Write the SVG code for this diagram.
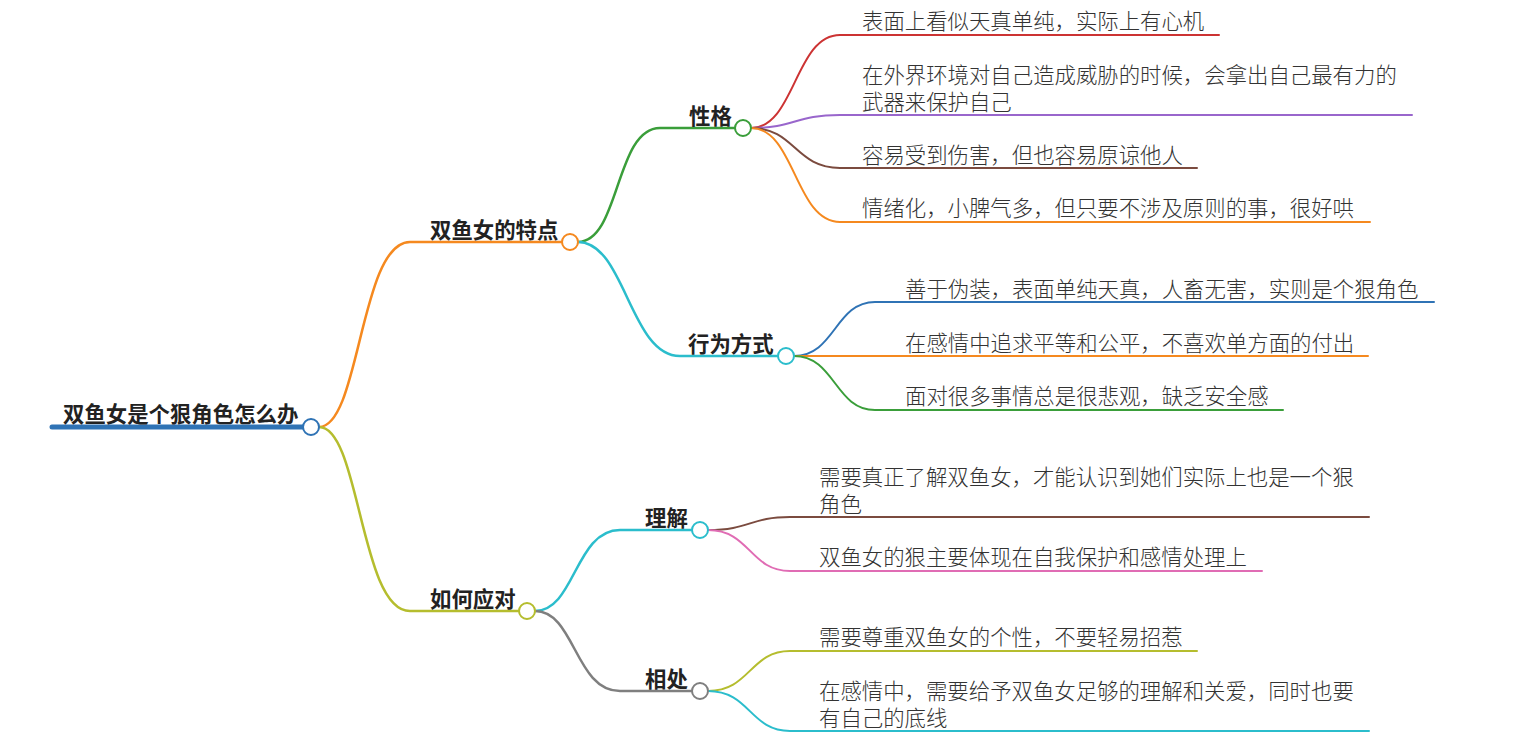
<svg xmlns="http://www.w3.org/2000/svg" width="1529" height="745" viewBox="0 0 1529 745">
<style>
.c{fill:none;stroke-linecap:round}
.b{stroke-width:2.5}
.l{stroke-width:2}
.n{fill:#fff;stroke-width:2}
.t{font-family:"Noto Sans CJK SC","Noto Sans",sans-serif;font-size:21.4px;fill:#333;font-weight:300}
.h{font-family:"Noto Sans CJK SC","Noto Sans",sans-serif;font-size:21.4px;fill:#222;font-weight:bold}
</style>
<rect width="1529" height="745" fill="#fff"/>
<g id="connectors">
<path class="c" d="M52,427 L303,427" stroke="#2f73b5" stroke-width="5"/>
<path class="c b" d="M319,427 C360,427 360,242 410,242 L562,242" stroke="#f5891f"/>
<path class="c b" d="M319,427 C360,427 360,611 410,611 L519,611" stroke="#b5bd2e"/>
<path class="c b" d="M578,242 C620,242 615,128 660,128 L735,128" stroke="#3a9e3a"/>
<path class="c b" d="M578,242 C625,242 630,356 680,356 L778,356" stroke="#2bbdcc"/>
<path class="c b" d="M535,611 C575,611 575,530 620,530 L692,530" stroke="#2bbdcc"/>
<path class="c b" d="M535,611 C575,611 575,691 620,691 L692,691" stroke="#7f7f7f"/>
<path class="c l" d="M751,128 C795,128 795,35 840,35 L1219,35" stroke="#cc3333"/>
<path class="c l" d="M751,128 C795,128 795,115 840,115 L1412,115" stroke="#9966cc"/>
<path class="c l" d="M751,128 C795,128 795,168 840,168 L1197,168" stroke="#7b4b3f"/>
<path class="c l" d="M751,128 C795,128 795,222 840,222 L1370,222" stroke="#f5891f"/>
<path class="c l" d="M794,356 C835,356 835,302 875,302 L1434,302" stroke="#2f73b5"/>
<path class="c l" d="M794,356 L1368,356" stroke="#f5891f"/>
<path class="c l" d="M794,356 C835,356 835,410 875,410 L1283,410" stroke="#3a9e3a"/>
<path class="c l" d="M708,530 C750,530 750,517 790,517 L1369,517" stroke="#7b4b3f"/>
<path class="c l" d="M708,530 C750,530 750,571 790,571 L1262,571" stroke="#e06cb4"/>
<path class="c l" d="M708,691 C750,691 750,651 790,651 L1197,651" stroke="#b5bd2e"/>
<path class="c l" d="M708,691 C750,691 750,731 790,731 L1369,731" stroke="#2bbdcc"/>
</g>
<g id="root"><circle class="n" cx="311" cy="427" r="8" stroke="#2f73b5"/><text class="h" x="63" y="422">双鱼女是个狠角色怎么办</text></g>
<g id="n1"><circle class="n" cx="570" cy="242" r="8" stroke="#f5891f"/><text class="h" x="430" y="238">双鱼女的特点</text></g>
<g id="n2"><circle class="n" cx="527" cy="611" r="8" stroke="#b5bd2e"/><text class="h" x="430" y="607">如何应对</text></g>
<g id="n11"><circle class="n" cx="743" cy="128" r="8" stroke="#3a9e3a"/><text class="h" x="689" y="124">性格</text></g>
<g id="n12"><circle class="n" cx="786" cy="356" r="8" stroke="#2bbdcc"/><text class="h" x="688" y="352">行为方式</text></g>
<g id="n21"><circle class="n" cx="700" cy="530" r="8" stroke="#2bbdcc"/><text class="h" x="645" y="526">理解</text></g>
<g id="n22"><circle class="n" cx="700" cy="691" r="8" stroke="#7f7f7f"/><text class="h" x="645" y="687">相处</text></g>
<g id="l1"><text class="t" x="862" y="29">表面上看似天真单纯，实际上有心机</text></g>
<g id="l2"><text class="t" x="862" y="83">在外界环境对自己造成威胁的时候，会拿出自己最有力的<tspan x="862" dy="27">武器来保护自己</tspan></text></g>
<g id="l3"><text class="t" x="862" y="163">容易受到伤害，但也容易原谅他人</text></g>
<g id="l4"><text class="t" x="862" y="216">情绪化，小脾气多，但只要不涉及原则的事，很好哄</text></g>
<g id="l5"><text class="t" x="905" y="297">善于伪装，表面单纯天真，人畜无害，实则是个狠角色</text></g>
<g id="l6"><text class="t" x="905" y="351">在感情中追求平等和公平，不喜欢单方面的付出</text></g>
<g id="l7"><text class="t" x="905" y="404">面对很多事情总是很悲观，缺乏安全感</text></g>
<g id="l8"><text class="t" x="819" y="485">需要真正了解双鱼女，才能认识到她们实际上也是一个狠<tspan x="819" dy="27">角色</tspan></text></g>
<g id="l9"><text class="t" x="819" y="565">双鱼女的狠主要体现在自我保护和感情处理上</text></g>
<g id="l10"><text class="t" x="819" y="645">需要尊重双鱼女的个性，不要轻易招惹</text></g>
<g id="l11"><text class="t" x="819" y="699">在感情中，需要给予双鱼女足够的理解和关爱，同时也要<tspan x="819" dy="27">有自己的底线</tspan></text></g>
</svg>
